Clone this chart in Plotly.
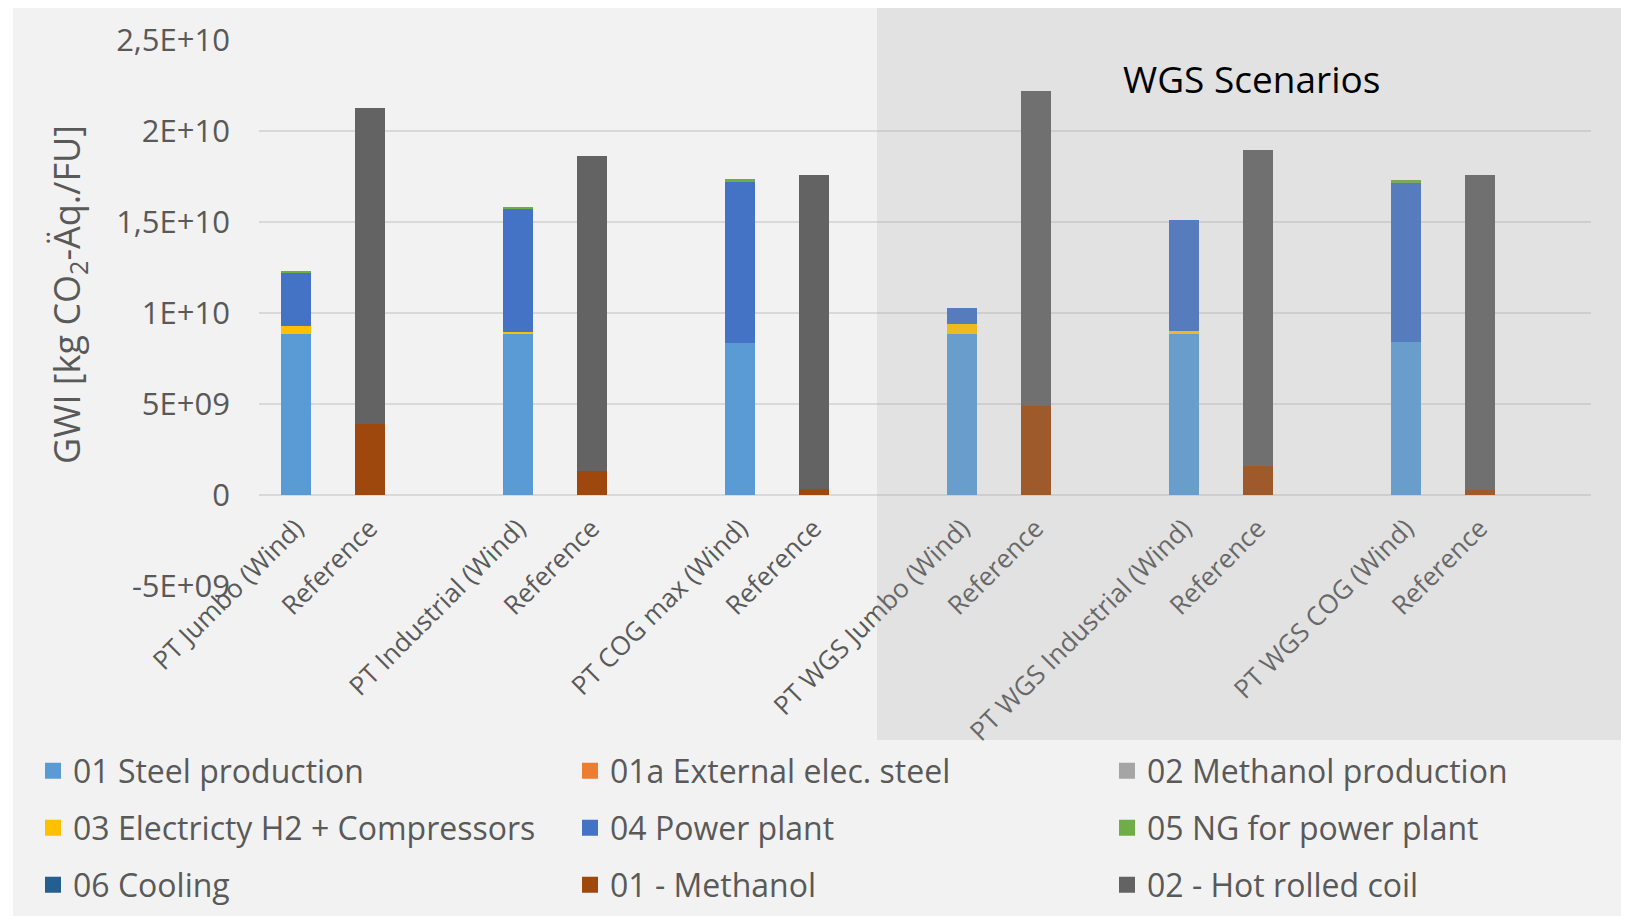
import plotly.graph_objects as go

# page is rendered with an 8px body margin; all pixel positions below are page pixels
PAGE_W, PAGE_H = 1629, 916
OFF = 8
W_FIG, H_FIG = PAGE_W - OFF, PAGE_H - OFF
PLOT_L, PLOT_R, PLOT_T, PLOT_B = 259, 1591, 40, 586  # page pixels
L, R, T, B = PLOT_L - OFF, PAGE_W - PLOT_R, PLOT_T - OFF, PAGE_H - PLOT_B
PW, PH = PLOT_R - PLOT_L, PLOT_B - PLOT_T

categories = ["PT Jumbo (Wind)", "Reference", "",
              "PT Industrial (Wind)", "Reference", "",
              "PT COG max (Wind)", "Reference", "",
              "PT WGS Jumbo (Wind)", "Reference", "",
              "PT WGS Industrial (Wind)", "Reference", "",
              "PT WGS COG (Wind)", "Reference", ""]

steel_production = [8.87e9, 0, None, 8.85e9, 0, None, 8.37e9, 0, None,
                    8.85e9, 0, None, 8.85e9, 0, None, 8.38e9, 0, None]
external_elec_steel = [0, 0, None, 0, 0, None, 0, 0, None,
                       0, 0, None, 0, 0, None, 0, 0, None]
methanol_production = [0, 0, None, 0, 0, None, 0, 0, None,
                       0, 0, None, 0, 0, None, 0, 0, None]
electricity_h2 = [0.40e9, 0, None, 0.13e9, 0, None, 0, 0, None,
                  0.53e9, 0, None, 0.18e9, 0, None, 0, 0, None]
power_plant = [2.93e9, 0, None, 6.76e9, 0, None, 8.83e9, 0, None,
               0.92e9, 0, None, 6.10e9, 0, None, 8.76e9, 0, None]
ng_power_plant = [0.13e9, 0, None, 0.07e9, 0, None, 0.16e9, 0, None,
                  0, 0, None, 0, 0, None, 0.19e9, 0, None]
cooling = [0, 0, None, 0, 0, None, 0, 0, None,
           0, 0, None, 0, 0, None, 0, 0, None]
ref_methanol = [0, 3.92e9, None, 0, 1.34e9, None, 0, 0.31e9, None,
                0, 4.89e9, None, 0, 1.62e9, None, 0, 0.26e9, None]
ref_hot_rolled_coil = [0, 17.33e9, None, 0, 17.31e9, None, 0, 17.29e9, None,
                       0, 17.33e9, None, 0, 17.36e9, None, 0, 17.34e9, None]

series_names = ["01 Steel production", "01a External elec. steel", "02 Methanol production",
                "03 Electricty H2 + Compressors", "04 Power plant", "05 NG for power plant",
                "06 Cooling", "01 - Methanol", "02 - Hot rolled coil"]
series_values = [steel_production, external_elec_steel, methanol_production,
                 electricity_h2, power_plant, ng_power_plant,
                 cooling, ref_methanol, ref_hot_rolled_coil]
series_colors = ["#5B9BD5", "#ED7D31", "#A5A5A5", "#FFC000", "#4472C4", "#70AD47",
                 "#255E91", "#9E480E", "#636363"]

y_tickvals = [-5e9, 0, 5e9, 1e10, 1.5e10, 2e10, 2.5e10]
y_ticktext = ["-5E+09", "0", "5E+09", "1E+10", "1,5E+10", "2E+10", "2,5E+10"]

FONT = "Open Sans"
GREY = "#595959"

x_pos = list(range(len(categories)))
x_tickvals = [i for i, c in enumerate(categories) if c]
x_ticktext = [c for c in categories if c]

legend_ids = ["legend", "legend", "legend", "legend2", "legend2", "legend2",
              "legend3", "legend3", "legend3"]
legend_item_w = [492, 492, 400, 492, 492, 400, 492, 492, 400]


def px_x(p):
    return (p - PLOT_L) / PW


def px_y(p):
    return (PLOT_B - p) / PH


fig = go.Figure()
for name, vals, col in zip(series_names, series_values, series_colors):
    fig.add_trace(go.Bar(x=x_pos, y=vals, name=name, marker_color=col,
                         marker_line_width=0, width=0.4, showlegend=False,
                         legendgroup=name, hoverinfo="name+y"))
# legend entries (square swatches)
for name, col, lg, lw in zip(series_names, series_colors, legend_ids, legend_item_w):
    fig.add_trace(go.Scatter(x=[None], y=[None], mode="markers", name=name,
                             marker=dict(symbol="square", size=17, color=col),
                             legend=lg, legendwidth=lw, legendgroup=name,
                             hoverinfo="skip"))

shapes = [
    dict(type="rect", xref="paper", yref="paper", x0=px_x(0), x1=px_x(13),
         y0=px_y(PAGE_H), y1=px_y(0), fillcolor="white", line_width=0, layer="below"),
    dict(type="rect", xref="paper", yref="paper", x0=px_x(877), x1=px_x(PAGE_W),
         y0=px_y(740), y1=px_y(0), fillcolor="rgba(163,163,163,0.2)",
         line_width=0, layer="above"),
]

annotations = [
    dict(text="WGS Scenarios", xref="paper", yref="paper", x=px_x(1251), y=px_y(79),
         xanchor="center", yanchor="middle", showarrow=False,
         font=dict(family=FONT, size=37, color="black")),
    dict(text="GWI [kg CO<sub>2</sub>-Äq./FU]", xref="paper", yref="paper",
         x=px_x(68), y=px_y(295), textangle=-90, xanchor="center", yanchor="middle",
         showarrow=False, font=dict(family=FONT, size=36, color=GREY)),
]

legend_common = dict(orientation="h", xref="paper", yref="paper",
                     xanchor="left", yanchor="middle", entrywidth=492,
                     entrywidthmode="pixels", bgcolor="rgba(0,0,0,0)",
                     itemsizing="trace",
                     font=dict(family=FONT, size=32, color=GREY), traceorder="normal")

fig.update_layout(
    width=W_FIG, height=H_FIG,
    margin=dict(l=L, r=R, t=T, b=B, pad=0, autoexpand=False),
    paper_bgcolor="#F2F2F2", plot_bgcolor="#F2F2F2",
    barmode="stack",
    font=dict(family=FONT, color=GREY),
    showlegend=True,
    legend=dict(x=px_x(33), y=px_y(771), **legend_common),
    legend2=dict(x=px_x(33), y=px_y(828), **legend_common),
    legend3=dict(x=px_x(33), y=px_y(885), **legend_common),
    xaxis=dict(range=[-0.5, len(categories) - 0.5], tickmode="array",
               tickvals=x_tickvals, ticktext=x_ticktext, tickangle=-45,
               showgrid=False, zeroline=False, showline=False, ticks="",
               automargin=False, ticklabelstandoff=12,
               anchor="free", position=(0 - y_tickvals[0]) / (y_tickvals[-1] - y_tickvals[0]),
               tickfont=dict(family=FONT, size=26, color=GREY)),
    yaxis=dict(range=[y_tickvals[0], y_tickvals[-1]], tickmode="array",
               tickvals=y_tickvals, ticktext=y_ticktext, automargin=False,
               showgrid=True, gridcolor="#D9D9D9", gridwidth=2,
               zeroline=True, zerolinecolor="#D9D9D9", zerolinewidth=2,
               showline=False, ticks="", ticklabelstandoff=28,
               tickfont=dict(family=FONT, size=31, color=GREY)),
    shapes=shapes,
    annotations=annotations,
)

fig.write_html("out.html")
